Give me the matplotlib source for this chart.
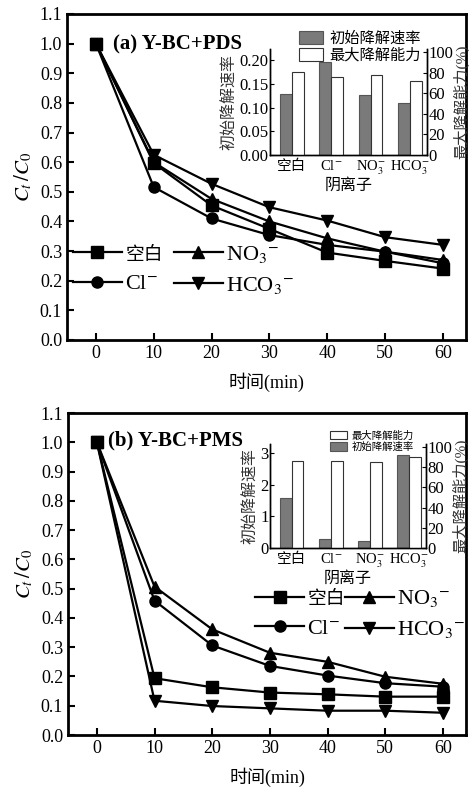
import matplotlib
matplotlib.use("Agg")
import numpy as np
import matplotlib.pyplot as plt

plt.rcParams['font.family'] = ['Liberation Serif', 'Noto Sans CJK SC']
plt.rcParams['mathtext.fontset'] = 'stix'

# time axis
t = [0, 10, 20, 30, 40, 50, 60]

# (a) Y-BC+PDS, Ct/C0
a_blank = [1.0, 0.597, 0.454, 0.375, 0.295, 0.267, 0.241]
a_cl = [1.0, 0.516, 0.410, 0.354, 0.321, 0.298, 0.259]
a_no3 = [1.0, 0.600, 0.476, 0.400, 0.343, 0.298, 0.270]
a_hco3 = [1.0, 0.625, 0.527, 0.448, 0.403, 0.347, 0.321]

# (b) Y-BC+PMS, Ct/C0
b_blank = [1.0, 0.194, 0.163, 0.145, 0.139, 0.131, 0.131]
b_cl = [1.0, 0.459, 0.306, 0.236, 0.203, 0.177, 0.165]
b_no3 = [1.0, 0.507, 0.361, 0.281, 0.250, 0.199, 0.175]
b_hco3 = [1.0, 0.117, 0.099, 0.091, 0.083, 0.083, 0.076]

# inset bars
anions = ['空白', r'Cl$^{-}$', r'NO$_3^{-}$', r'HCO$_3^{-}$']
a_rate = [0.128, 0.196, 0.126, 0.110]
a_cap = [81, 75.4, 77.3, 72]
b_rate = [1.57, 0.276, 0.22, 2.93]
b_cap = [86.3, 86.3, 85.3, 90.4]

labels = ['空白', r'Cl$^{-}$', r'NO$_3$$^{-}$', r'HCO$_3$$^{-}$']
markers = ['s', 'o', '^', 'v']

fig = plt.figure(figsize=(4.71, 7.96), dpi=100)
ax_a = fig.add_axes([67/471, 1-340/796, 399/471, 326/796])
ax_b = fig.add_axes([68/471, 1-735/796, 398/471, 322/796])


def main_panel(ax, series, title, title_xy, leg_anchor, colsp):
    hs = []
    for y, m, lab in zip(series, markers, labels):
        h, = ax.plot(t, y, color='black', marker=m, markersize=8, lw=1.6, label=lab)
        hs.append(h)
    ax.set_xlim(-5, 64)
    ax.set_ylim(0, 1.1)
    ax.set_xticks(t)
    ax.set_yticks(np.arange(0, 1.11, 0.1))
    ax.yaxis.set_major_formatter(plt.FormatStrFormatter('%.1f'))
    ax.tick_params(direction='in', length=5, width=1.5, labelsize=13)
    for s in ax.spines.values():
        s.set_linewidth(2)
    ax.set_xlabel('时间(min)', fontsize=13, labelpad=8)
    ax.set_ylabel(r'$C_t\,/C_0$', fontsize=15, labelpad=4)
    ax.text(title_xy[0], title_xy[1], title, transform=ax.transAxes, fontsize=15,
            fontweight='bold', va='center', ha='left')
    # legend order: column 1 blank, Cl; column 2 NO3, HCO3
    leg = ax.legend(hs, labels, ncol=2, loc='upper left', bbox_to_anchor=leg_anchor,
                    frameon=False, fontsize=16, handlelength=2.2, handletextpad=0.15,
                    columnspacing=colsp, labelspacing=0.45, borderaxespad=0,
                    borderpad=0)
    leg.get_texts()[0].set_fontsize(13.5)


main_panel(ax_a, [a_blank, a_cl, a_no3, a_hco3], '(a) Y-BC+PDS',
           (0.115, 0.905), (0.015, 0.295), 0.5)
main_panel(ax_b, [b_blank, b_cl, b_no3, b_hco3], '(b) Y-BC+PMS',
           (0.10, 0.916), (0.47, 0.455), 0.0)


def inset(rect, rate, cap, rmax, rticks, rfmt, order, legsize, leg_anchor):
    ax = fig.add_axes(rect)
    ax2 = ax.twinx()
    x = np.arange(len(anions))
    b1 = ax.bar(x - 0.15, rate, width=0.3, color='#7a7a7a', edgecolor='#555555', lw=0.8)
    b2 = ax2.bar(x + 0.15, cap, width=0.3, color='white', edgecolor='#333333', lw=0.8)
    ax.set_xlim(-0.55, 3.43)
    ax.set_ylim(0, rmax)
    ax2.set_ylim(0, 103)
    ax.set_yticks(rticks)
    ax.yaxis.set_major_formatter(plt.FormatStrFormatter(rfmt))
    ax2.set_yticks([0, 20, 40, 60, 80, 100])
    ax.set_xticks(x)
    ax.set_xticklabels(anions)
    ax.tick_params(axis='x', length=0, labelsize=10.5, pad=3)
    ax.tick_params(axis='y', direction='in', length=3, labelsize=12, pad=1)
    ax2.tick_params(axis='y', direction='in', length=3, labelsize=12, pad=1)
    for a in (ax, ax2):
        a.spines['top'].set_visible(False)
        for s in ('left', 'right', 'bottom'):
            a.spines[s].set_linewidth(1.0)
    ax.set_xlabel('阴离子', fontsize=11.5, labelpad=0)
    ax.set_ylabel('初始降解速率', fontsize=11.5, labelpad=1, color='#333333')
    ax2.set_ylabel('最大降解能力(%)', fontsize=11, labelpad=0, color='#333333')
    ax.patch.set_visible(False)
    hs = [b1, b2]
    ls = ['初始降解速率', '最大降解能力']
    if order == 'rev':
        hs, ls = hs[::-1], ls[::-1]
    ax.legend(hs, ls, loc='lower right', bbox_to_anchor=leg_anchor,
              frameon=False, fontsize=legsize, handlelength=1.6, handleheight=0.9,
              handletextpad=0.4, labelspacing=0.15, borderaxespad=0, borderpad=0)
    return ax


inset([270/471, 1-155/796, 157/471, 106/796], a_rate, a_cap, 0.224,
      [0, 0.05, 0.10, 0.15, 0.20], '%.2f', 'norm', 11, (0.96, 0.87))
inset([270/471, 1-548/796, 156/471, 104/796], b_rate, b_cap, 3.29,
      [0, 1, 2, 3], '%d', 'rev', 7.5, (0.92, 0.92))

fig.savefig('out.png', dpi=100)
